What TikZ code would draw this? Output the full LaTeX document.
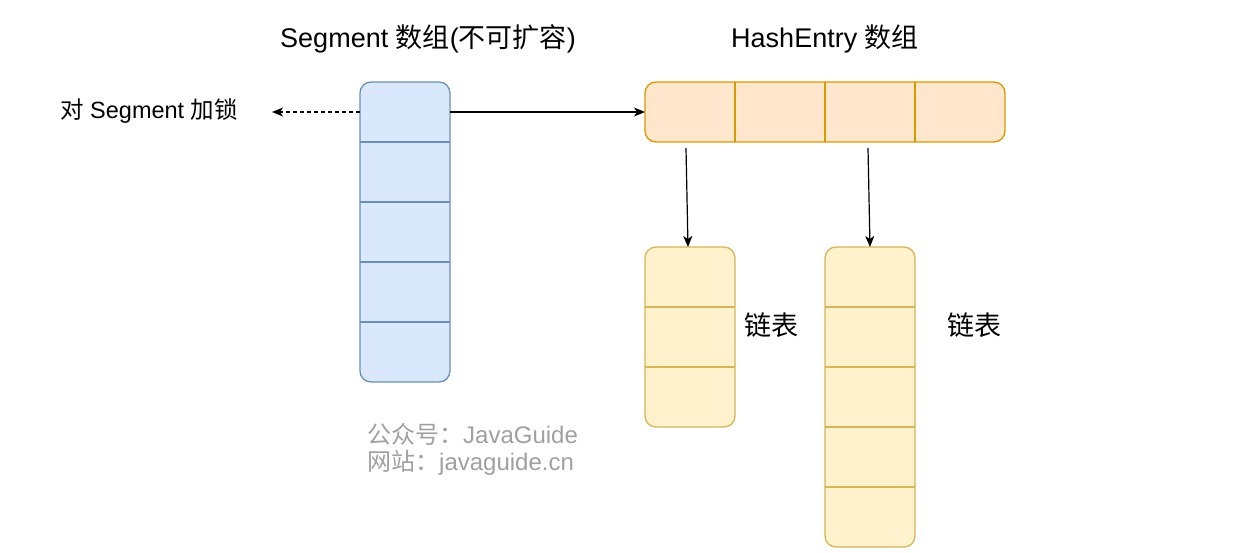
\documentclass[tikz,border=0pt]{standalone}
\usepackage{fontspec}
\setmainfont{Liberation Sans}
\newfontfamily\cjk{Noto Sans CJK SC}
\usetikzlibrary{arrows.meta}
\definecolor{segfill}{HTML}{DAE8FC}
\definecolor{segline}{HTML}{6C8EBF}
\definecolor{hefill}{HTML}{FFE6CC}
\definecolor{heline}{HTML}{D79B00}
\definecolor{llfill}{HTML}{FFF2CC}
\definecolor{llline}{HTML}{D6B656}
\definecolor{wm}{HTML}{A0A0A0}
\begin{document}
\begin{tikzpicture}[x=1pt,y=-1pt,
  box/.style={draw,rounded corners=11pt,line width=1.3pt,inner sep=0pt,outer sep=0pt},
  big/.style={font=\fontsize{27}{32}\selectfont,text=black,inner sep=0pt},
  small/.style={font=\fontsize{23.5}{28}\selectfont,text=black,inner sep=0pt},
  conn/.style={-{Stealth[length=11pt,width=9pt,inset=3pt]},line width=1.2pt,black}]
\useasboundingbox (0,0) rectangle (1259,552);
% Segment array
\node[box,fill=segfill,draw=segline,minimum width=90pt,minimum height=300pt] (seg) at (405,232) {};
\foreach \y in {142,202,262,322}{\draw[segline,line width=1.3pt] (seg.west |- 0,\y) -- (seg.east |- 0,\y);}
% HashEntry array
\node[box,fill=hefill,draw=heline,minimum width=360pt,minimum height=60pt] (he) at (825,112) {};
\foreach \x in {735,825,915}{\draw[heline,line width=1.3pt] (\x,82) -- (\x,142);}
% list 1
\node[box,fill=llfill,draw=llline,minimum width=90pt,minimum height=180pt] (la) at (690,337) {};
\foreach \y in {307,367}{\draw[llline,line width=1.3pt] (la.west |- 0,\y) -- (la.east |- 0,\y);}
% list 2
\node[box,fill=llfill,draw=llline,minimum width=90pt,minimum height=300pt] (lb) at (870,397) {};
\foreach \y in {307,367,427,487}{\draw[llline,line width=1.3pt] (lb.west |- 0,\y) -- (lb.east |- 0,\y);}
% labels
\node[big] (t1) at (428,39) {Segment {\cjk 数组}({\cjk 不可扩容})};
\node[big] (t2) at (825,39) {HashEntry {\cjk 数组}};
\node[small] (t3) at (149,111) {{\cjk 对} Segment {\cjk 加锁}};
\node[big] (t4) at (771,325) {\cjk 链表};
\node[big] (t5) at (974,325) {\cjk 链表};
\node[small,text=wm,anchor=west,font=\fontsize{24}{28}\selectfont] (wm1) at (367,434) {{\cjk 公众号：}JavaGuide};
\node[small,text=wm,anchor=west,font=\fontsize{24}{28}\selectfont] (wm2) at (367,463) {{\cjk 网站：}javaguide.cn};
% connectors
\coordinate (lock) at (272,112);
\draw[conn] (seg.east |- 0,112) -- (he.west |- 0,112);
\draw[conn,dash pattern=on 4pt off 3pt] (seg.west |- 0,112) -- (lock);
\coordinate (s1) at (686,148);
\coordinate (s2) at (868,148);
\draw[conn] (s1) -- (la.north -| 688,0);
\draw[conn] (s2) -- (lb.north -| 870,0);
\end{tikzpicture}
\end{document}
